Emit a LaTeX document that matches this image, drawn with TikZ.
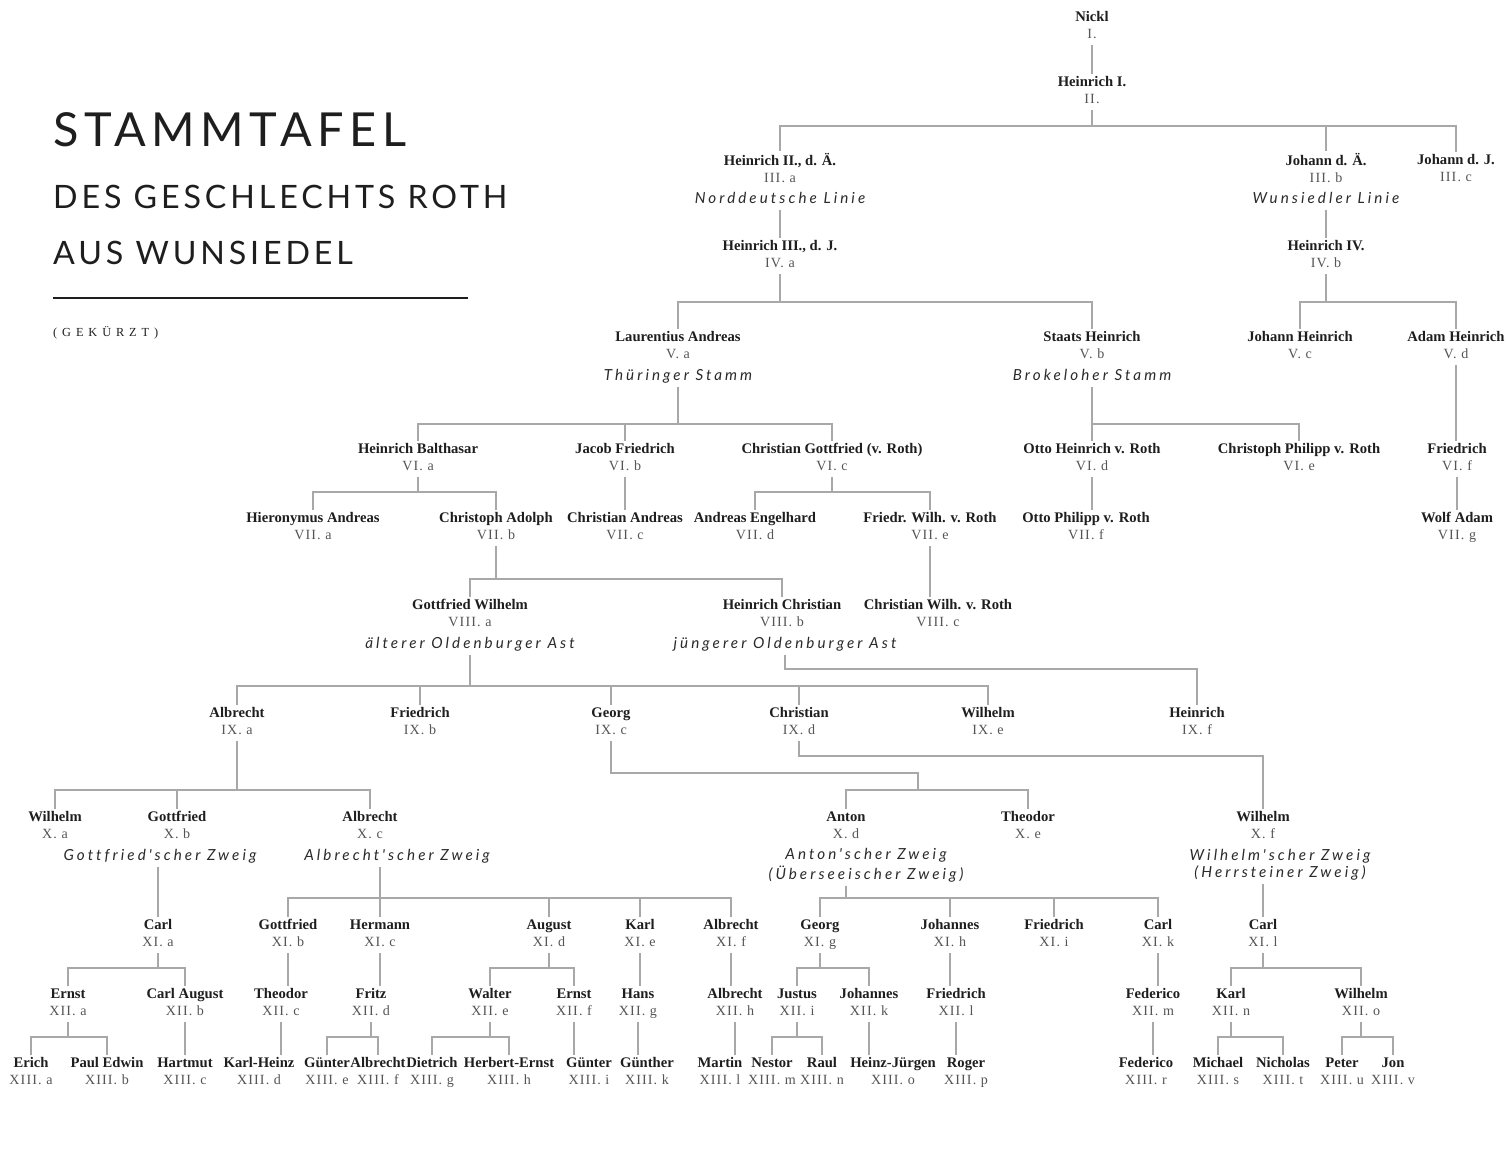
\documentclass[tikz,border=0pt]{standalone}
\usepackage{fontspec}
\usepackage{tikz}
\setmainfont{Liberation Serif}
\newfontfamily\numfont{Liberation Serif}[LetterSpace=8]
\newfontfamily\lblfont{Lato}[LetterSpace=20,Ligatures=NoCommon]
\newfontfamily\titlefont{Lato}[LetterSpace=12]
\newfontfamily\notefont{Liberation Serif}[LetterSpace=40]

\definecolor{namecol}{HTML}{1E1E1E}
\definecolor{numcol}{HTML}{555555}
\definecolor{lblcol}{HTML}{2A2A2A}
\definecolor{linecol}{HTML}{A8A8A8}

\newcommand{\who}[2]{\strut#1\\{\numfont\mdseries\fontsize{12}{14.5}\selectfont\color{numcol}\strut#2}}

\tikzset{
  person/.style={align=center,inner sep=1pt,text=namecol,font=\fontsize{12.5}{14.5}\selectfont\bfseries},
  branchname/.style={align=center,inner sep=1pt,text=lblcol,font=\lblfont\itshape\fontsize{13}{14.5}\selectfont},
  link/.style={draw=linecol,line width=1.1pt},
  title/.style={anchor=base west,inner sep=0pt,text=namecol}
}

\begin{document}
\begin{tikzpicture}[x=0.03cm,y=-0.03cm]
  \path[use as bounding box,fill=white] (0,0) rectangle (1507,1162);

  \node[title,font=\titlefont\fontsize{40}{40}\selectfont] (t1) at (53,146) {STAMMTAFEL};
  \node[title,font=\titlefont\fontsize{27.5}{27.5}\selectfont] (t2) at (53,208) {DES GESCHLECHTS ROTH};
  \node[title,font=\titlefont\fontsize{27.5}{27.5}\selectfont] (t3) at (53,264) {AUS WUNSIEDEL};
  \draw[line width=2.5pt,namecol] (t3.base west |- 0,298) -- (468,298);
  \node[title,font=\notefont\fontsize{10.5}{10.5}\selectfont] (t4) at (53,336) {(GEKÜRZT)};

  \node[person] (nickl) at (1092,27) {\who{Nickl}{I.}};
  \node[person] (hI) at (1092,92) {\who{Heinrich I.}{II.}};

  \node[person] (hII) at (780,170) {\who{Heinrich II., d. Ä.}{III. a}};
  \node[branchname] (nord) at (780,200) {\strut Norddeutsche Linie};
  \node[person] (jA) at (1326,170) {\who{Johann d. Ä.}{III. b}};
  \node[branchname] (wun) at (1326,200) {\strut Wunsiedler Linie};
  \node[person] (jJ) at (1456,170) {\who{Johann d. J.}{III. c}};

  \node[person] (hIII) at (780,256) {\who{Heinrich III., d. J.}{IV. a}};
  \node[person] (hIV) at (1326,256) {\who{Heinrich IV.}{IV. b}};

  \node[person] (la) at (678,347) {\who{Laurentius Andreas}{V. a}};
  \node[branchname] (thu) at (678,377) {\strut Thüringer Stamm};
  \node[person] (sh) at (1092,347) {\who{Staats Heinrich}{V. b}};
  \node[branchname] (bro) at (1092,377) {\strut Brokeloher Stamm};
  \node[person] (joh) at (1300,347) {\who{Johann Heinrich}{V. c}};
  \node[person] (ah) at (1456,347) {\who{Adam Heinrich}{V. d}};

  \node[person] (hb) at (418,459) {\who{Heinrich Balthasar}{VI. a}};
  \node[person] (jf) at (625,459) {\who{Jacob Friedrich}{VI. b}};
  \node[person] (cg) at (832,459) {\who{Christian Gottfried (v. Roth)}{VI. c}};
  \node[person] (oh) at (1092,459) {\who{Otto Heinrich v. Roth}{VI. d}};
  \node[person] (cp) at (1299,459) {\who{Christoph Philipp v. Roth}{VI. e}};
  \node[person] (fr) at (1457,459) {\who{Friedrich}{VI. f}};

  \node[person] (hia) at (313,528) {\who{Hieronymus Andreas}{VII. a}};
  \node[person] (ca) at (496,528) {\who{Christoph Adolph}{VII. b}};
  \node[person] (cha) at (625,528) {\who{Christian Andreas}{VII. c}};
  \node[person] (ae) at (755,528) {\who{Andreas Engelhard}{VII. d}};
  \node[person] (fw) at (930,528) {\who{Friedr. Wilh. v. Roth}{VII. e}};
  \node[person] (op) at (1086,528) {\who{Otto Philipp v. Roth}{VII. f}};
  \node[person] (wa) at (1457,528) {\who{Wolf Adam}{VII. g}};

  \node[person] (gw) at (470,615) {\who{Gottfried Wilhelm}{VIII. a}};
  \node[branchname] (alt) at (470,645) {\strut älterer Oldenburger Ast};
  \node[person] (hc) at (782,615) {\who{Heinrich Christian}{VIII. b}};
  \node[branchname] (jue) at (785,645) {\strut jüngerer Oldenburger Ast};
  \node[person] (cw) at (938,615) {\who{Christian Wilh. v. Roth}{VIII. c}};

  \node[person] (alIX) at (237,723) {\who{Albrecht}{IX. a}};
  \node[person] (frIX) at (420,723) {\who{Friedrich}{IX. b}};
  \node[person] (geIX) at (611,723) {\who{Georg}{IX. c}};
  \node[person] (chIX) at (799,723) {\who{Christian}{IX. d}};
  \node[person] (wiIX) at (988,723) {\who{Wilhelm}{IX. e}};
  \node[person] (heIX) at (1197,723) {\who{Heinrich}{IX. f}};

  \node[person] (wiXa) at (55,827) {\who{Wilhelm}{X. a}};
  \node[person] (goX) at (177,827) {\who{Gottfried}{X. b}};
  \node[branchname] (gotz) at (160,857) {\strut Gottfried'scher Zweig};
  \node[person] (alX) at (370,827) {\who{Albrecht}{X. c}};
  \node[branchname] (alz) at (397,857) {\strut Albrecht'scher Zweig};
  \node[person] (an) at (846,827) {\who{Anton}{X. d}};
  \node[branchname] (anz) at (866,866) {\strut Anton'scher Zweig\\\strut(Überseeischer Zweig)};
  \node[person] (th) at (1028,827) {\who{Theodor}{X. e}};
  \node[person] (wiX) at (1263,827) {\who{Wilhelm}{X. f}};
  \node[branchname] (wiz) at (1280,866) {\strut Wilhelm'scher Zweig\\\strut(Herrsteiner Zweig)};
  \coordinate (gfork) at (918,790);

  \node[person] (caXI) at (158,935) {\who{Carl}{XI. a}};
  \node[person] (goXI) at (288,935) {\who{Gottfried}{XI. b}};
  \node[person] (he) at (380,935) {\who{Hermann}{XI. c}};
  \node[person] (au) at (549,935) {\who{August}{XI. d}};
  \node[person] (ka) at (640,935) {\who{Karl}{XI. e}};
  \node[person] (alXI) at (731,935) {\who{Albrecht}{XI. f}};
  \node[person] (geXI) at (820,935) {\who{Georg}{XI. g}};
  \node[person] (joXI) at (950,935) {\who{Johannes}{XI. h}};
  \node[person] (frXI) at (1054,935) {\who{Friedrich}{XI. i}};
  \node[person] (caXIk) at (1158,935) {\who{Carl}{XI. k}};
  \node[person] (caXIl) at (1263,935) {\who{Carl}{XI. l}};

  \node[person] (er) at (68,1004) {\who{Ernst}{XII. a}};
  \node[person] (cau) at (185,1004) {\who{Carl August}{XII. b}};
  \node[person] (thXII) at (281,1004) {\who{Theodor}{XII. c}};
  \node[person] (fz) at (371,1004) {\who{Fritz}{XII. d}};
  \node[person] (wal) at (490,1004) {\who{Walter}{XII. e}};
  \node[person] (erXII) at (574,1004) {\who{Ernst}{XII. f}};
  \node[person] (ha) at (638,1004) {\who{Hans}{XII. g}};
  \node[person] (alXII) at (735,1004) {\who{Albrecht}{XII. h}};
  \node[person] (ju) at (797,1004) {\who{Justus}{XII. i}};
  \node[person] (joXII) at (869,1004) {\who{Johannes}{XII. k}};
  \node[person] (frXII) at (956,1004) {\who{Friedrich}{XII. l}};
  \node[person] (fe) at (1153,1004) {\who{Federico}{XII. m}};
  \node[person] (kaXII) at (1231,1004) {\who{Karl}{XII. n}};
  \node[person] (wiXII) at (1361,1004) {\who{Wilhelm}{XII. o}};

  \node[person] (erich) at (31,1073) {\who{Erich}{XIII. a}};
  \node[person] (pe) at (107,1073) {\who{Paul Edwin}{XIII. b}};
  \node[person] (hart) at (185,1073) {\who{Hartmut}{XIII. c}};
  \node[person] (kh) at (259,1073) {\who{Karl-Heinz}{XIII. d}};
  \node[person] (gue) at (327,1073) {\who{Günter}{XIII. e}};
  \node[person] (alXIII) at (378,1073) {\who{Albrecht}{XIII. f}};
  \node[person] (di) at (432,1073) {\who{Dietrich}{XIII. g}};
  \node[person] (hbe) at (509,1073) {\who{Herbert-Ernst}{XIII. h}};
  \node[person] (gueI) at (589,1073) {\who{Günter}{XIII. i}};
  \node[person] (gth) at (647,1073) {\who{Günther}{XIII. k}};
  \node[person] (ma) at (720,1073) {\who{Martin}{XIII. l}};
  \node[person] (ne) at (772,1073) {\who{Nestor}{XIII. m}};
  \node[person] (ra) at (822,1073) {\who{Raul}{XIII. n}};
  \node[person] (hj) at (893,1073) {\who{Heinz-Jürgen}{XIII. o}};
  \node[person] (ro) at (966,1073) {\who{Roger}{XIII. p}};
  \node[person] (feXIII) at (1146,1073) {\who{Federico}{XIII. r}};
  \node[person] (mi) at (1218,1073) {\who{Michael}{XIII. s}};
  \node[person] (ni) at (1283,1073) {\who{Nicholas}{XIII. t}};
  \node[person] (pt) at (1342,1073) {\who{Peter}{XIII. u}};
  \node[person] (jon) at (1393,1073) {\who{Jon}{XIII. v}};

  \draw[link] (nickl.south) -- (nickl.south |- hI.north);
  \draw[link] (hI.south) |- (hII.north |- 0,126) -- (hII.north)
    (hI.south) |- (jA.north |- 0,126) -- (jA.north)
    (hI.south) |- (jJ.north |- 0,126) -- (jJ.north);
  \draw[link] (nord.south) -- (nord.south |- hIII.north);
  \draw[link] (wun.south) -- (wun.south |- hIV.north);

  \draw[link] (hIII.south) |- (la.north |- 0,302) -- (la.north)
    (hIII.south) |- (sh.north |- 0,302) -- (sh.north);
  \draw[link] (hIV.south) |- (joh.north |- 0,302) -- (joh.north)
    (hIV.south) |- (ah.north |- 0,302) -- (ah.north);

  \draw[link] (thu.south) |- (hb.north |- 0,424) -- (hb.north)
    (thu.south) |- (jf.north |- 0,424) -- (jf.north)
    (thu.south) |- (cg.north |- 0,424) -- (cg.north);
  \draw[link] (bro.south) |- (oh.north |- 0,424) -- (oh.north)
    (bro.south) |- (cp.north |- 0,424) -- (cp.north);
  \draw[link] (ah.south) -- (ah.south |- fr.north);
  \draw[link] (fr.south) -- (fr.south |- wa.north);

  \draw[link] (hb.south) |- (hia.north |- 0,492) -- (hia.north)
    (hb.south) |- (ca.north |- 0,492) -- (ca.north);
  \draw[link] (jf.south) -- (jf.south |- cha.north);
  \draw[link] (cg.south) |- (ae.north |- 0,492) -- (ae.north)
    (cg.south) |- (fw.north |- 0,492) -- (fw.north);
  \draw[link] (oh.south) -- (oh.south |- op.north);

  \draw[link] (ca.south) |- (gw.north |- 0,579) -- (gw.north)
    (ca.south) |- (hc.north |- 0,579) -- (hc.north);
  \draw[link] (fw.south) -- (fw.south |- cw.north);

  \draw[link] (alt.south) |- (alIX.north |- 0,686) -- (alIX.north)
    (alt.south) |- (frIX.north |- 0,686) -- (frIX.north)
    (alt.south) |- (geIX.north |- 0,686) -- (geIX.north)
    (alt.south) |- (chIX.north |- 0,686) -- (chIX.north)
    (alt.south) |- (wiIX.north |- 0,686) -- (wiIX.north);
  \draw[link] (jue.south) |- (heIX.north |- 0,669) -- (heIX.north);

  \draw[link] (alIX.south) |- (wiXa.north |- 0,790) -- (wiXa.north)
    (alIX.south) |- (goX.north |- 0,790) -- (goX.north)
    (alIX.south) |- (alX.north |- 0,790) -- (alX.north);
  \draw[link] (geIX.south) |- (gfork |- 0,773) -- (gfork) -| (an.north)
    (gfork) -| (th.north);
  \draw[link] (chIX.south) |- (wiX.north |- 0,756) -- (wiX.north);

  \draw[link] (gotz.south -| caXI.north) -- (caXI.north);
  \draw[link] (alz.south -| he.north) |- (goXI.north |- 0,898) -- (goXI.north)
    (alz.south -| he.north) -- (he.north)
    (alz.south -| he.north) |- (au.north |- 0,898) -- (au.north)
    (alz.south -| he.north) |- (ka.north |- 0,898) -- (ka.north)
    (alz.south -| he.north) |- (alXI.north |- 0,898) -- (alXI.north);
  \draw[link] (anz.south -| an.south) |- (geXI.north |- 0,898) -- (geXI.north)
    (anz.south -| an.south) |- (joXI.north |- 0,898) -- (joXI.north)
    (anz.south -| an.south) |- (frXI.north |- 0,898) -- (frXI.north)
    (anz.south -| an.south) |- (caXIk.north |- 0,898) -- (caXIk.north);
  \draw[link] (wiz.south -| caXIl.north) -- (caXIl.north);

  \draw[link] (caXI.south) |- (er.north |- 0,968) -- (er.north)
    (caXI.south) |- (cau.north |- 0,968) -- (cau.north);
  \draw[link] (goXI.south) -- (goXI.south |- thXII.north);
  \draw[link] (he.south) -- (he.south |- fz.north);
  \draw[link] (au.south) |- (wal.north |- 0,968) -- (wal.north)
    (au.south) |- (erXII.north |- 0,968) -- (erXII.north);
  \draw[link] (ka.south) -- (ka.south |- ha.north);
  \draw[link] (alXI.south) -- (alXI.south |- alXII.north);
  \draw[link] (geXI.south) |- (ju.north |- 0,968) -- (ju.north)
    (geXI.south) |- (joXII.north |- 0,968) -- (joXII.north);
  \draw[link] (joXI.south) -- (joXI.south |- frXII.north);
  \draw[link] (caXIk.south) -- (caXIk.south |- fe.north);
  \draw[link] (caXIl.south) |- (kaXII.north |- 0,968) -- (kaXII.north)
    (caXIl.south) |- (wiXII.north |- 0,968) -- (wiXII.north);

  \draw[link] (er.south) |- (erich.north |- 0,1037) -- (erich.north)
    (er.south) |- (pe.north |- 0,1037) -- (pe.north);
  \draw[link] (cau.south) -- (cau.south |- hart.north);
  \draw[link] (thXII.south) -- (thXII.south |- kh.north);
  \draw[link] (fz.south) |- (gue.north |- 0,1037) -- (gue.north)
    (fz.south) |- (alXIII.north |- 0,1037) -- (alXIII.north);
  \draw[link] (wal.south) |- (di.north |- 0,1037) -- (di.north)
    (wal.south) |- (hbe.north |- 0,1037) -- (hbe.north);
  \draw[link] (erXII.south) -- (erXII.south |- gueI.north);
  \draw[link] (ha.south) -- (ha.south |- gth.north);
  \draw[link] (alXII.south) -- (alXII.south |- ma.north);
  \draw[link] (ju.south) |- (ne.north |- 0,1037) -- (ne.north)
    (ju.south) |- (ra.north |- 0,1037) -- (ra.north);
  \draw[link] (joXII.south) -- (joXII.south |- hj.north);
  \draw[link] (frXII.south) -- (frXII.south |- ro.north);
  \draw[link] (fe.south) -- (fe.south |- feXIII.north);
  \draw[link] (kaXII.south) |- (mi.north |- 0,1037) -- (mi.north)
    (kaXII.south) |- (ni.north |- 0,1037) -- (ni.north);
  \draw[link] (wiXII.south) |- (pt.north |- 0,1037) -- (pt.north)
    (wiXII.south) |- (jon.north |- 0,1037) -- (jon.north);
\end{tikzpicture}
\end{document}
